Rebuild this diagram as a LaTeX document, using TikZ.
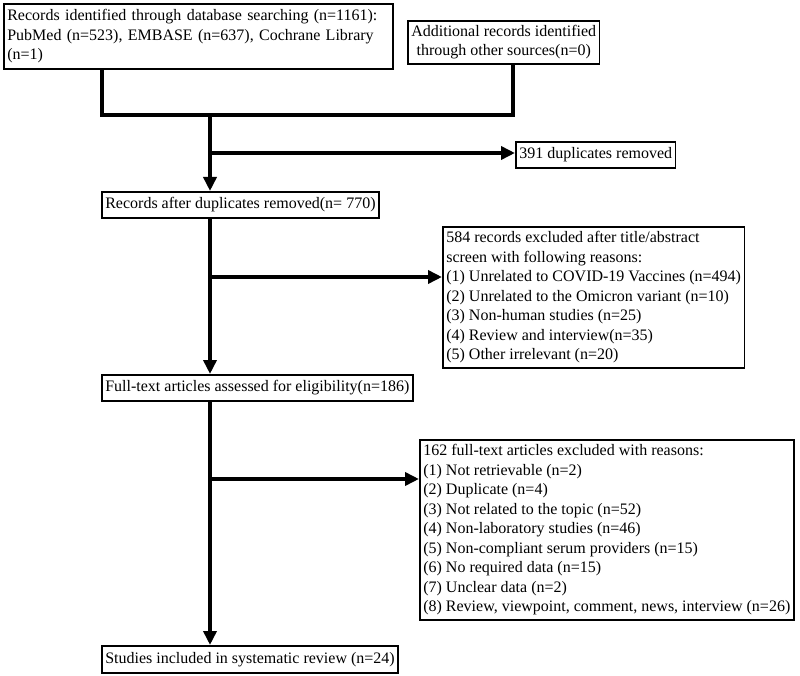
\documentclass[tikz,border=0pt]{standalone}
\usepackage{fontspec}
\setmainfont{Liberation Serif}
\usetikzlibrary{arrows.meta, calc, positioning}

\tikzset{
  box/.style={draw, line width=1.6pt, anchor=north west, align=left,
              inner xsep=3.5pt, inner ysep=2pt,
              font=\fontsize{16}{19.5}\selectfont},
  conn/.style={line width=3.5pt},
  arr/.style={conn, -{Triangle[length=14pt,width=13pt]}},
}

\begin{document}
\begin{tikzpicture}[x=1pt, y=-1pt]
      \useasboundingbox (0,0) rectangle (800,676);

      % Identification
      \node[box, text width=382pt, minimum height=65pt] (src) at (3,3)
        {Records identified through database searching (n=1161):\\
         PubMed (n=523), EMBASE (n=637), Cochrane Library\\(n=1)};
      \node[box, align=center, minimum height=43pt] (other) at (407,20)
        {Additional records identified\\through other sources(n=0)};

      % Screening
      \node[box, minimum height=26pt] (dup) at (515,141)
        {391 duplicates removed};
      \node[box, minimum height=26pt] (rec) at (101,191)
        {Records after duplicates removed(n= 770)};
      \node[box, minimum height=141pt] (excl1) at (442,226)
        {584 records excluded after title/abstract\\
         screen with following reasons:\\
         (1) Unrelated to COVID-19 Vaccines (n=494)\\
         (2) Unrelated to the Omicron variant (n=10)\\
         (3) Non-human studies (n=25)\\
         (4) Review and interview(n=35)\\
         (5) Other irrelevant (n=20)};

      % Eligibility
      \node[box, minimum height=26pt] (full) at (101,374)
        {Full-text articles assessed for eligibility(n=186)};
      \node[box, minimum height=180pt] (excl2) at (419,439)
        {162 full-text articles excluded with reasons:\\
         (1) Not retrievable (n=2)\\
         (2) Duplicate (n=4)\\
         (3) Not related to the topic (n=52)\\
         (4) Non-laboratory studies (n=46)\\
         (5) Non-compliant serum providers (n=15)\\
         (6) No required data (n=15)\\
         (7) Unclear data (n=2)\\
         (8) Review, viewpoint, comment, news, interview (n=26)};

      % Included
      \node[box, minimum height=27pt] (incl) at (101,645)
        {Studies included in systematic review (n=24)};

      % Connectors
      \coordinate (joinl) at (102,115);
      \coordinate (join) at (210,115);
      \coordinate (joinr) at (513,115);
      \coordinate (b1) at (210,153);
      \coordinate (b2) at (210,277);
      \coordinate (b3) at (210,479);

      \draw[conn] (joinl |- src.south) |- (joinr) -- (joinr |- other.south);
      \draw[arr] (join) -- (join |- rec.north);
      \draw[arr] (b1) -- (b1 -| dup.west);
      \draw[arr] (join |- rec.south) -- (join |- full.north);
      \draw[arr] (b2) -- (b2 -| excl1.west);
      \draw[arr] (join |- full.south) -- (join |- incl.north);
      \draw[arr] (b3) -- (b3 -| excl2.west);
    \end{tikzpicture}
\end{document}
